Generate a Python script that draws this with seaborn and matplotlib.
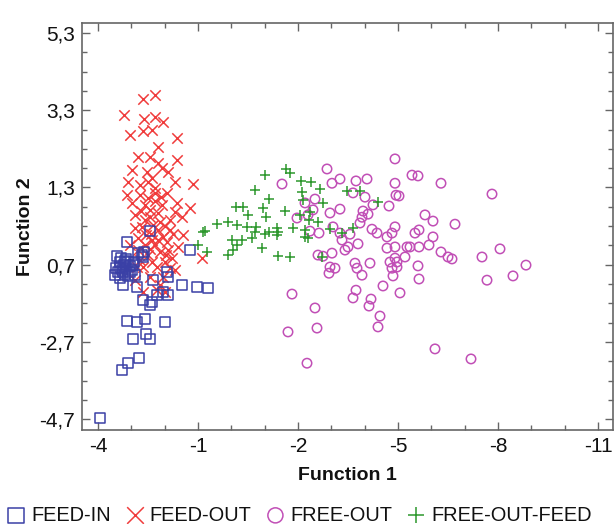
import numpy as np
import matplotlib
matplotlib.use("Agg")
import matplotlib.pyplot as plt
import seaborn as sns
from matplotlib.ticker import FixedLocator, MultipleLocator

# ---- data (Function 1, Function 2) per group ----
feed_in = [(-3.13, -0.11), (-2.44, 0.17), (-2.62, -0.37), (-1.24, -0.32), (-3.43, -0.48),
           (-2.68, -0.45), (-3.34, -0.63), (-3.22, -0.71), (-3.10, -0.63), (-3.28, -0.84),
           (-3.16, -0.79), (-3.04, -0.73), (-3.40, -0.89), (-3.19, -0.94), (-2.98, -0.84),
           (-3.10, -0.99), (-3.31, -0.53), (-2.92, -0.63), (-3.46, -0.79), (-3.49, -0.97),
           (-3.34, -1.05), (-3.25, -1.23), (-2.83, -1.28), (-2.89, -0.97), (-2.80, -0.40),
           (-2.65, -0.50), (-2.65, -1.62), (-2.44, -1.74), (-2.38, -1.67), (-2.23, -1.49),
           (-2.05, -1.41), (-1.90, -1.49), (-1.93, -0.89), (-1.90, -1.02), (-2.35, -1.10),
           (-1.48, -1.23), (-1.03, -1.28), (-0.70, -1.30), (-3.13, -2.16), (-2.83, -2.19),
           (-2.59, -2.11), (-1.99, -2.19), (-2.95, -2.63), (-2.56, -2.50), (-2.44, -2.63),
           (-2.77, -3.12), (-3.10, -3.25), (-3.28, -3.43), (-3.94, -4.67),
           (-3.20, -0.60), (-3.05, -0.90), (-3.35, -0.75), (-3.25, -0.88), (-3.15, -0.55),
           (-2.95, -0.70)]

feed_out = [(-3.22, 3.18), (-3.04, 2.66), (-2.65, 3.59), (-2.29, 3.69), (-2.62, 3.07),
            (-2.29, 3.12), (-2.05, 2.99), (-2.65, 2.76), (-2.38, 2.79), (-1.63, 2.58),
            (-2.20, 2.35), (-2.80, 2.09), (-2.44, 2.09), (-1.63, 2.01), (-2.20, 1.93),
            (-2.08, 1.80), (-2.98, 1.75), (-2.53, 1.70), (-1.90, 1.70), (-3.10, 1.44),
            (-2.50, 1.44), (-1.69, 1.44), (-1.15, 1.39), (-2.38, 1.54), (-3.13, 1.10),
            (-2.74, 1.10), (-2.29, 1.16), (-1.93, 1.16), (-2.98, 0.90), (-2.59, 0.85),
            (-2.08, 0.85), (-1.63, 0.90), (-1.24, 0.77), (-2.89, 0.59), (-2.44, 0.53),
            (-2.20, 0.64), (-1.84, 0.46), (-1.48, 0.53), (-2.68, 0.28), (-2.20, 0.20),
            (-1.84, 0.20), (-1.45, 0.07), (-2.80, -0.01), (-2.38, -0.06), (-1.93, -0.11),
            (-1.60, -0.24), (-2.80, -0.32), (-2.50, -0.45), (-2.14, -0.37), (-1.78, -0.53),
            (-2.65, -0.76), (-2.23, -0.76), (-1.84, -0.79), (-2.44, -1.02), (-2.05, -1.02),
            (-0.88, -0.53), (-2.65, -1.41), (-2.23, -1.36), (-1.99, -1.41), (-2.83, -0.76),
            (-2.50, 1.03), (-2.14, 0.41), (-2.56, 0.07), (-2.05, 0.02), (-2.29, -0.19),
            (-2.74, -0.58), (-1.99, -0.63), (-2.38, -0.63), (-1.69, 0.66), (-2.44, 0.72),
            (-2.89, 0.25), (-1.90, -0.32), (-3.04, -0.19), (-2.35, 0.33), (-2.59, -0.19),
            (-2.14, -1.23), (-2.89, -1.10), (-1.69, -0.84), (-2.29, 1.29), (-2.74, 1.36),
            (-2.40, 0.10), (-2.00, 0.30), (-2.60, 0.45), (-2.20, -0.05), (-1.75, 0.10),
            (-2.45, -0.30), (-2.10, 1.05), (-2.70, 0.70), (-1.95, -0.45), (-2.30, 0.95)]

free_out = [(1.52, 1.39), (1.97, 0.51), (2.21, 0.90), (2.51, 1.00), (2.30, 0.59),
            (2.45, 0.72), (2.36, 0.17), (2.63, 0.12), (2.60, -0.45), (2.87, 1.78),
            (3.02, 1.41), (3.26, 1.52), (3.74, 1.47), (4.07, 1.52), (4.91, 2.04),
            (4.91, 1.41), (5.42, 1.62), (5.60, 1.60), (6.29, 1.41), (7.82, 1.13),
            (3.65, 1.16), (4.01, 1.05), (4.94, 1.10), (5.03, 1.08), (3.26, 0.74),
            (3.95, 0.69), (4.73, 0.82), (4.25, 0.85), (2.96, 0.64), (3.92, 0.53),
            (4.10, 0.61), (3.86, 0.38), (4.91, 0.28), (4.22, 0.22), (4.37, 0.12),
            (4.82, 0.12), (3.26, 0.12), (3.56, 0.09), (3.05, 0.28), (3.32, -0.06),
            (4.67, 0.02), (3.80, -0.16), (3.41, -0.32), (3.50, -0.24), (2.75, -0.48),
            (3.02, -0.40), (4.67, -0.27), (4.91, -0.24), (4.91, -0.53), (5.21, -0.50),
            (5.27, -0.24), (5.81, 0.59), (6.05, 0.43), (6.71, 0.35), (5.63, 0.20),
            (5.51, 0.12), (6.05, 0.02), (5.93, -0.19), (5.36, -0.24), (5.63, -0.24),
            (6.29, -0.37), (6.50, -0.50), (6.62, -0.55), (7.52, -0.50), (8.06, -0.29),
            (8.84, -0.71), (8.45, -0.99), (7.67, -1.10), (5.60, -0.73), (5.63, -1.07),
            (2.96, -0.76), (3.11, -0.79), (2.93, -0.92), (3.71, -0.66), (3.77, -0.79),
            (3.92, -0.97), (4.16, -0.66), (4.76, -0.63), (4.97, -0.63), (4.82, -0.79),
            (4.97, -0.76), (4.85, -0.99), (4.55, -1.25), (5.06, -1.43), (3.74, -1.36),
            (3.65, -1.56), (4.19, -1.59), (4.13, -1.77), (4.46, -2.03), (4.40, -2.31),
            (1.82, -1.46), (2.51, -1.82), (1.70, -2.44), (2.57, -2.34), (2.27, -3.25),
            (6.11, -2.88), (7.19, -3.14)]

free_out_feed = [(1.01, 1.62), (1.64, 1.78), (1.76, 1.67), (0.71, 1.23), (1.13, 1.00),
                 (2.09, 1.47), (2.39, 1.44), (2.12, 1.18), (2.66, 1.26), (0.14, 0.79),
                 (0.35, 0.79), (0.95, 0.77), (1.04, 0.53), (0.50, 0.59), (-0.10, 0.41),
                 (-0.43, 0.35), (0.17, 0.33), (0.47, 0.28), (0.74, 0.28), (1.37, 0.25),
                 (1.85, 0.25), (-0.79, 0.17), (0.71, 0.15), (1.13, 0.15), (1.40, 0.15),
                 (2.21, 0.20), (0.02, -0.06), (0.32, -0.06), (0.62, -0.01), (1.01, 0.09),
                 (1.37, 0.07), (2.21, 0.02), (2.30, -0.01), (0.17, -0.19), (0.05, -0.32),
                 (0.92, -0.27), (-1.00, -0.19), (-0.73, -0.37), (1.40, -0.48), (1.76, -0.50),
                 (3.47, 1.21), (3.86, 1.21), (4.40, 0.92), (2.15, 0.97), (2.75, 0.90),
                 (2.36, 0.66), (2.60, 0.41), (2.33, 0.46), (2.96, 0.22), (3.32, 0.12),
                 (3.65, 0.25), (2.72, -0.50), (-0.85, 0.15), (1.61, 0.69), (2.06, 0.59),
                 (-0.10, -0.45)]

group_names = ["FEED-IN", "FEED-OUT", "FREE-OUT", "FREE-OUT-FEED"]
x_ticks = [-4, -1, 2, 5, 8, 11]
x_tick_labels = ["-4", "-1", "-2", "-5", "-8", "-11"]
y_ticks = [5.3, 3.3, 1.3, -0.7, -2.7, -4.7]
y_tick_labels = ["5,3", "3,3", "1,3", "0,7", "-2,7", "-4,7"]

# ---- style ----
sns.set_theme(style="ticks")
plt.rcParams['font.family'] = ['Liberation Sans', 'DejaVu Sans']

fig = plt.figure(figsize=(6.14, 5.24), dpi=100)
ax = fig.add_axes([82 / 614, 1 - 430 / 524, (613 - 82) / 614, (430 - 23) / 524])

series = [
    (feed_out, group_names[1], 'x', '#f03c3c', False, 56),
    (feed_in, group_names[0], 's', '#3a40a6', True, 50),
    (free_out, group_names[2], 'o', '#c14fb6', True, 46),
    (free_out_feed, group_names[3], '+', '#2c972c', False, 54),
]
handles = {}
for pts, name, mk, col, filled, size in series:
    arr = np.array(pts)
    kw = dict(x=arr[:, 0], y=arr[:, 1], ax=ax, marker=mk, s=size, color=col,
              linewidth=1.1, label=name, legend=False)
    if filled:
        kw.update(facecolor='none', edgecolor=col)
    sns.scatterplot(**kw)
    handles[name] = ax.collections[-1]

ax.set_xlim(-4.48, 11.45)
ax.set_ylim(-4.98, 5.56)
ax.xaxis.set_major_locator(FixedLocator(x_ticks))
ax.set_xticklabels(x_tick_labels)
ax.xaxis.set_minor_locator(MultipleLocator(1))
ax.yaxis.set_major_locator(FixedLocator(y_ticks))
ax.set_yticklabels(y_tick_labels)
ax.yaxis.set_minor_locator(FixedLocator(np.arange(-4.7, 5.4, 0.5)))

ax.tick_params(which='both', direction='in', top=True, right=True,
               color='#666666', width=1.0, labelsize=15, labelcolor='#111111', pad=5)
ax.tick_params(which='major', length=6)
ax.tick_params(which='minor', length=3.5)
for sp in ax.spines.values():
    sp.set_visible(True)
    sp.set_color('#666666')
    sp.set_linewidth(1.2)

ax.set_xlabel("Function 1", fontsize=14, fontweight='bold', labelpad=8, color='#111111')
ax.set_ylabel("Function 2", fontsize=14, fontweight='bold', labelpad=4, color='#111111')

fig.legend([handles[n] for n in group_names], group_names, loc='lower left',
           bbox_to_anchor=(0.008, -0.005), ncol=4, frameon=False, fontsize=14.4,
           markerscale=1.6, handlelength=0.9, handletextpad=0.3, columnspacing=0.75,
           borderpad=0.1, borderaxespad=0, labelcolor='#111111')

fig.savefig("out.png", dpi=100)
